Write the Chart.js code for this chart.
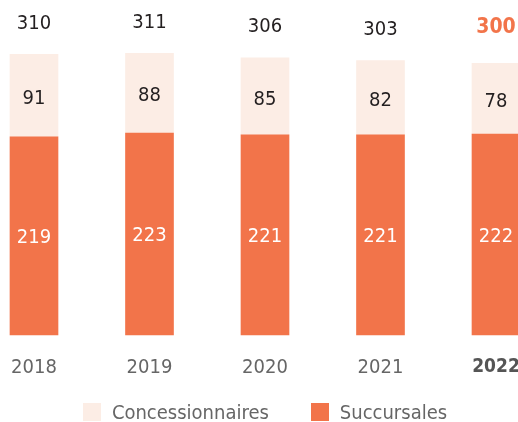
<!DOCTYPE html>
<html>
<head>
<meta charset="utf-8">
<script src="https://cdn.jsdelivr.net/npm/chart.js@4.4.1/dist/chart.umd.min.js"></script>
<style>
  html, body { margin: 0; padding: 0; background: #fff; }
  #wrap { position: relative; width: 518px; height: 422px; overflow: hidden; }
  #legend {
    position: absolute; left: 34px; width: 462px; top: 401px;
    display: flex; justify-content: center; align-items: center;
    font-family: 'DejaVu Sans Condensed', 'DejaVu Sans', sans-serif;
    font-size: 20px; color: #666; line-height: 22px;
  }
  #legend .item { display: flex; align-items: center; }
  #legend .item + .item { margin-left: 42px; }
  #legend .box { width: 18px; height: 18px; margin-right: 11px; }
</style>
</head>
<body>
<div id="wrap">
  <canvas id="chart"></canvas>
  <div id="legend"></div>
</div>
<script>
const years = ['2018', '2019', '2020', '2021', '2022'];
const succursales = [219, 223, 221, 221, 222];
const concessionnaires = [91, 88, 85, 82, 78];
const totals = [310, 311, 306, 303, 300];

const FONT = "'DejaVu Sans Condensed', 'DejaVu Sans', sans-serif";
const ORANGE = '#f2744a';
const PEACH = '#fcede5';

// labels inside the segments and totals on top
const valueLabels = {
    id: 'valueLabels',
    afterDatasetsDraw(chart) {
        const ctx = chart.ctx;
        ctx.save();
        ctx.textAlign = 'center';
        ctx.textBaseline = 'middle';
        chart.data.datasets.forEach((ds, di) => {
            const meta = chart.getDatasetMeta(di);
            meta.data.forEach((bar, i) => {
                const mid = (bar.y + bar.base) / 2;
                ctx.font = '20px ' + FONT;
                ctx.fillStyle = di === 0 ? '#fff' : '#231f20';
                ctx.fillText(ds.data[i], bar.x, mid + (di === 0 ? 2 : 3));
            });
        });
        const top = chart.getDatasetMeta(1);
        top.data.forEach((bar, i) => {
            const last = i === totals.length - 1;
            ctx.font = (last ? 'bold 21px ' : '20px ') + FONT;
            ctx.fillStyle = last ? ORANGE : '#231f20';
            ctx.fillText(totals[i], bar.x, bar.y - (last ? 36 : 31));
        });
        ctx.restore();
    }
};

const data = {
    labels: years,
    datasets: [{
        label: 'Succursales',
        data: succursales,
        backgroundColor: ORANGE,
        barThickness: 48,
        clip: false
    }, {
        label: 'Concessionnaires',
        data: concessionnaires,
        backgroundColor: PEACH,
        barThickness: 48,
        clip: false
    }]
};

const config = {
    type: 'bar',
    data: data,
    options: {
        responsive: true,
        maintainAspectRatio: false,
        animation: false,
        layout: { padding: { left: 34, right: 22, top: 0, bottom: 29 } },
        scales: {
            x: {
                stacked: true,
                offset: false,
                grid: { display: false },
                border: { display: false },
                ticks: {
                    padding: 14,
                    color: (c) => c.index === 4 ? '#555555' : '#666666',
                    font: (c) => ({ family: FONT, size: c.index === 4 ? 19 : 20, lineHeight: 1.1, weight: c.index === 4 ? 'bold' : 'normal' })
                },
                afterFit(scale) {
                    scale.paddingLeft = 0;
                    scale.paddingRight = 0;
                }
            },
            y: {
                stacked: true,
                display: false,
                min: 0,
                max: 370
            }
        },
        plugins: {
            tooltip: { enabled: false },
            legend: { display: false }
        }
    },
    plugins: [valueLabels]
};

const chart = new Chart(document.getElementById('chart'), config);

// legend in the order of the reference
const legendEl = document.getElementById('legend');
[1, 0].forEach(i => {
    const ds = data.datasets[i];
    const item = document.createElement('div');
    item.className = 'item';
    const box = document.createElement('span');
    box.className = 'box';
    box.style.background = ds.backgroundColor;
    const txt = document.createElement('span');
    txt.textContent = ds.label;
    item.appendChild(box);
    item.appendChild(txt);
    legendEl.appendChild(item);
});
</script>
</body>
</html>
